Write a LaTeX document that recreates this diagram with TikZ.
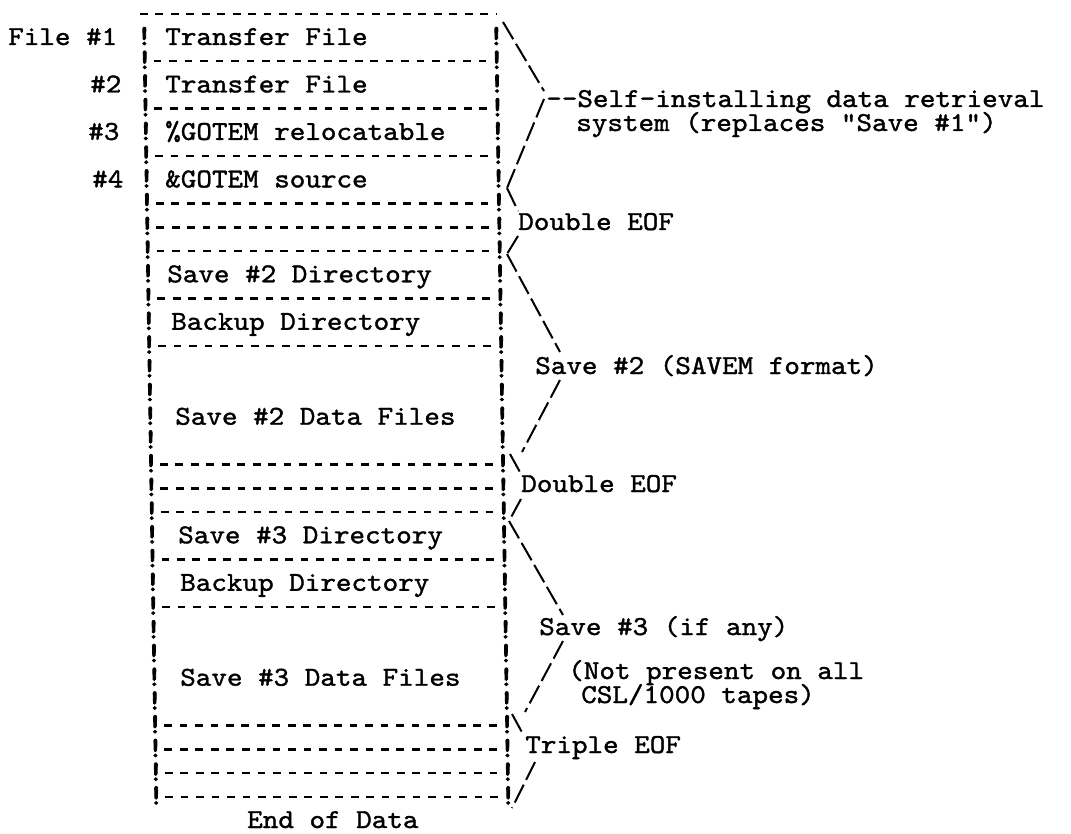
\documentclass[tikz,border=0pt]{standalone}
\usepackage{fontspec}
\newfontfamily\typewriter{lmmono10-regular.otf}[FakeStretch=1.085,FakeBold=1.3]
\newfontfamily\typebang{lmmono10-regular.otf}[FakeStretch=1.085,FakeBold=3]
\begin{document}
\begin{tikzpicture}[x=0.75pt,y=-0.75pt,
  every node/.style={inner sep=0pt,font={\typewriter\fontsize{20.5pt}{24pt}\selectfont}},
  txt/.style={anchor=base west},
  bang/.style={anchor=base,font={\typebang\fontsize{21.5pt}{24pt}\selectfont}},
  rowdash/.style={line width=1.8pt,dash pattern=on 5.8pt off 5.8pt},
  arm/.style={line width=1.5pt,dash pattern=on 15pt off 4pt}]
\useasboundingbox (0,0) rectangle (1071,834);
\fill[white] (0,0) rectangle (1071,834);

% typed border marks on both sides of the tape column
\foreach \k in {1,...,33} {
  \pgfmathsetmacro\yb{45+23.73*(\k-1)}
  \pgfmathsetmacro\xl{144+0.37*\k}
  \pgfmathsetmacro\xr{496+0.37*\k}
  \node[bang] (l\k) at (\xl,\yb) {!};
  \node[bang] (r\k) at (\xr,\yb) {!};
}

% top edge
\draw[rowdash] (140,14) -- (497,14);
% separators between files and EOF marks
\foreach \k in {2,4,6,8,9,10,12,14,19,20,21,23,25,30,31,32,33} {
  \pgfmathsetmacro\yb{45+23.73*(\k-1)-7.5}
  \pgfmathsetmacro\xl{144+0.37*\k+9}
  \pgfmathsetmacro\xr{496+0.37*\k-9}
  \draw[rowdash] (\xl,\yb) -- (\xr,\yb);
}

% file numbers
\node[txt] (f1) at (8,45) {File \#1};
\node[txt] (f2) at (90,92.5) {\#2};
\node[txt] (f3) at (88,139.9) {\#3};
\node[txt] (f4) at (92,187.4) {\#4};

% contents of the tape
\node[txt] (c1) at (165,45) {Transfer File};
\node[txt] (c2) at (165,92.5) {Transfer File};
\node[txt] (c3) at (165,139.9) {\%GOTEM relocatable};
\node[txt] (c4) at (165,187.4) {\&GOTEM source};
\node[txt] (c5) at (167,282.3) {Save \#2 Directory};
\node[txt] (c6) at (171,329.8) {Backup Directory};
\node[txt] (c7) at (175,424.7) {Save \#2 Data Files};
\node[txt] (c8) at (178,543.3) {Save \#3 Directory};
\node[txt] (c9) at (180,590.8) {Backup Directory};
\node[txt] (c10) at (180,685.7) {Save \#3 Data Files};
\node[txt] (eod) at (247,828) {End of Data};

% annotations
\node[txt] (n1) at (546,107) {--Self-installing data retrieval};
\node[txt] (n1b) at (576,131) {system (replaces "Save \#1")};
\node[txt] (n2) at (518,230) {Double EOF};
\node[txt] (n3) at (535,374) {Save \#2 (SAVEM format)};
\node[txt] (n4) at (521,492) {Double EOF};
\node[txt] (n5) at (539,635) {Save \#3 (if any)};
\node[txt] (n5b) at (568,679) {(Not present on all};
\node[txt] (n5c) at (581,703) {CSL/1000 tapes)};
\node[txt] (n6) at (525,753) {Triple EOF};

% brace ends and tips
\coordinate (a0) at (503,22);   \coordinate (a1) at (544,91);
\coordinate (a2) at (544,99);   \coordinate (a3) at (507,188);
\coordinate (a4) at (518,211);  \coordinate (a5) at (518,236);
\coordinate (a6) at (507,254);  \coordinate (a7) at (560,352);
\coordinate (a8) at (560,380);  \coordinate (a9) at (522,452);
\coordinate (a10) at (510,454); \coordinate (a11) at (521,474);
\coordinate (a12) at (521,499); \coordinate (a13) at (509,521);
\coordinate (a14) at (563,615); \coordinate (a15) at (563,641);
\coordinate (a16) at (525,712); \coordinate (a17) at (512,714);
\coordinate (a18) at (524,736); \coordinate (a19) at (535,762);
\coordinate (a20) at (512,808);

\draw[arm] (a0) -- (a1);
\draw[arm] (a2) -- (a3);
\draw[arm] (a3) -- (a4);
\draw[arm] (a5) -- (a6);
\draw[arm] (a6) -- (a7);
\draw[arm] (a8) -- (a9);
\draw[arm] (a10) -- (a11);
\draw[arm] (a12) -- (a13);
\draw[arm] (a13) -- (a14);
\draw[arm] (a15) -- (a16);
\draw[arm] (a17) -- (a18);
\draw[arm] (a19) -- (a20);
\end{tikzpicture}
\end{document}
